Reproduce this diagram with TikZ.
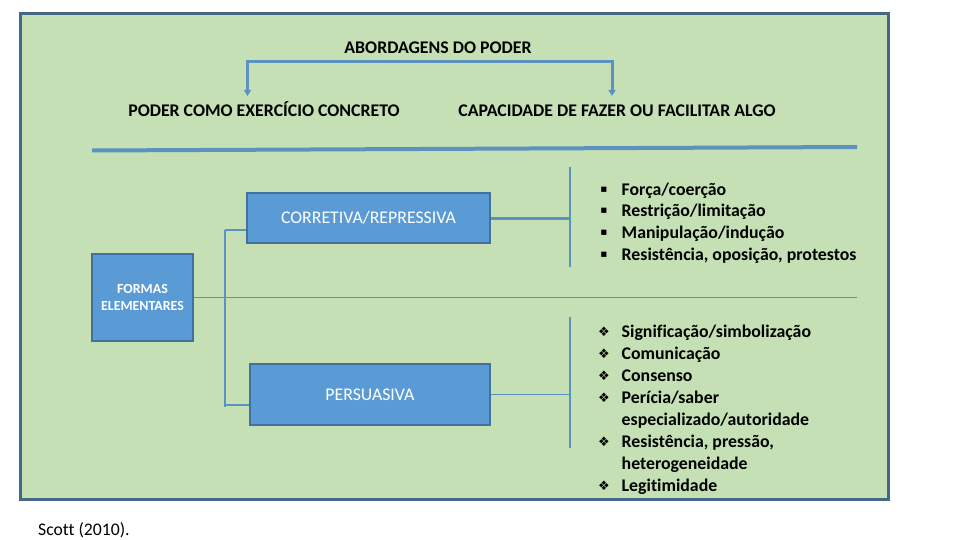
\documentclass[tikz,border=0pt]{standalone}
\usepackage{fontspec}
\setmainfont[Ligatures=NoCommon]{Carlito}
\newfontfamily\symfont{DejaVu Sans}
\usetikzlibrary{arrows.meta}
\definecolor{bgreen}{RGB}{197,224,180}
\definecolor{frameb}{RGB}{70,104,132}
\definecolor{boxfill}{RGB}{91,155,213}
\definecolor{boxedge}{RGB}{65,113,156}
\definecolor{linkc}{RGB}{92,146,192}
\begin{document}
\begin{tikzpicture}[x=1pt,y=-1pt,
  hdr/.style={font=\fontsize{17.8}{21}\selectfont\bfseries, inner sep=0, anchor=base},
  item/.style={font=\fontsize{17.8}{21}\selectfont\bfseries, inner sep=0, anchor=base west},
  sq/.style={font=\symfont\fontsize{10.5}{10.5}\selectfont, inner sep=0},
  dia/.style={font=\symfont\fontsize{13}{13}\selectfont, inner sep=0},
  bluebox/.style={draw=boxedge, line width=2.5pt, fill=boxfill, text=white, inner sep=0, font=\fontsize{17.8}{21}\selectfont},
  link/.style={draw=linkc, line width=1.5pt},
  arr/.style={link, line width=3pt, -{Triangle[width=7pt,length=6pt]}},
]
\useasboundingbox (0,0) rectangle (960,540);
\node[draw=frameb, line width=2.6pt, fill=bgreen, minimum width=868, minimum height=486, inner sep=0, anchor=north west] (frame) at (19,12) {};

% headers
\node[hdr] (title) at (438,54) {ABORDAGENS DO PODER};
\node[hdr] (sub1) at (264,117) {PODER COMO EXERCÍCIO CONCRETO};
\node[hdr] (sub2) at (617,117) {CAPACIDADE DE FAZER OU FACILITAR ALGO};

\coordinate (bar) at (430,62);
\coordinate (a1) at (247.5,96);
\coordinate (a2) at (612,96);
\draw[arr] (bar) -| (a1);
\draw[arr] (bar) -| (a2);

% thick separator
\coordinate (t1) at (92,150.5);
\coordinate (t2) at (857,147);
\draw[link, line width=4pt] (t1) -- (t2);

% boxes
\node[bluebox, minimum width=243, minimum height=50] (corr) at (368.5,218) {CORRETIVA/REPRESSIVA};
\node[bluebox, minimum width=240, minimum height=61] (pers) at (370,394.5) {PERSUASIVA};
\node[bluebox, minimum width=101, minimum height=87, align=center, font=\fontsize{13.9}{17.5}\selectfont\bfseries] (formas) at (142.5,297.5) {FORMAS\\ELEMENTARES};

% connectors
\coordinate (hl) at (857,297.5);
\draw[link, line width=1.2pt] (formas.east) -- (hl);
\coordinate (v1) at (225,230);
\coordinate (v2) at (225,407);
\coordinate (v3) at (225,405);
\draw[link, line width=2.5pt] (v1) -- (v2);
\draw[link] (v1) -- (v1 -| corr.west);
\draw[link] (v3) -- (v3 -| pers.west);
\coordinate (r1) at (570,167);
\coordinate (r2) at (570,267);
\coordinate (r3) at (570,317);
\coordinate (r4) at (570,448);
\draw[link, line width=1.2pt] (r1) -- (r2);
\draw[link, line width=1.2pt] (r3) -- (r4);
\draw[link, line width=3pt] (corr.east) -- (corr.east -| r1);
\draw[link, line width=1.2pt] (pers.east) -- (pers.east -| r3);

% list 1
\foreach \t [count=\i] in {{Força/coerção}, {Restrição/limitação}, {Manipulação/indução}, {Resistência, oposição, protestos}} {
  \pgfmathsetmacro{\yb}{195+21.7*(\i-1)}
  \node[item] (la\i) at (621.5,\yb) {\t};
  \node[sq] (ba\i) at (604,\yb-5.5) {▪};
}

% list 2
\foreach \t/\b [count=\i] in {{Significação/simbolização}/1, {Comunicação}/1, {Consenso}/1, {Perícia/saber}/1, {especializado/autoridade}/0, {Resistência, pressão,}/1, {heterogeneidade}/0, {Legitimidade}/1} {
  \pgfmathsetmacro{\yb}{337+22*(\i-1)}
  \node[item] (lb\i) at (621.5,\yb) {\t};
  \ifnum\b=1 \node[dia] (bb\i) at (604,\yb-4.8) {❖};\fi
}

\node[font=\fontsize{17.7}{20}\selectfont, anchor=base west, inner sep=0] (src) at (38,535) {Scott (2010).};
\end{tikzpicture}
\end{document}
